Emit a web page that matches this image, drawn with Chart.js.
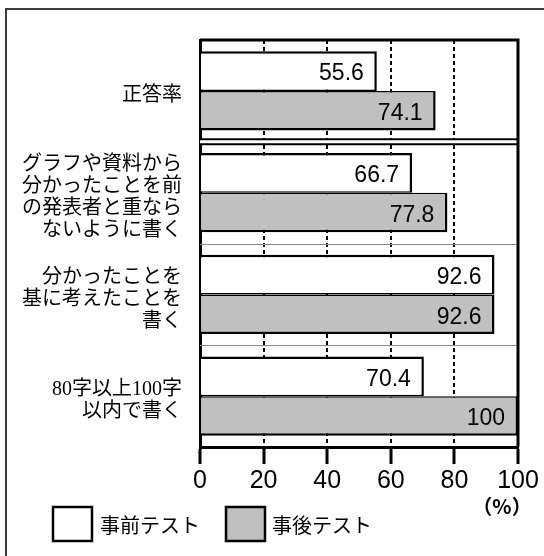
<!DOCTYPE html>
<html>
<head>
<meta charset="utf-8">
<script src="https://cdn.jsdelivr.net/npm/chart.js@4/dist/chart.umd.min.js"></script>
<style>
  html, body { margin: 0; padding: 0; background: #fff; }
  #wrap { position: relative; width: 544px; height: 556px; overflow: hidden; }
  #frame { position: absolute; left: 5px; top: 8px; width: 600px; height: 600px;
           border-left: 2px solid #3a3a3a; border-top: 2px solid #3a3a3a; }
  #c { position: absolute; left: 0; top: 0; }
</style>
</head>
<body>
<div id="wrap">
  <div id="frame"></div>
  <canvas id="c" width="544" height="556"></canvas>
</div>
<script>
// Evaluation items (multi-line labels)
const categories = [
  ['正答率'],
  ['グラフや資料から', '分かったことを前', 'の発表者と重なら', 'ないように書く'],
  ['分かったことを', '基に考えたことを', '書く'],
  ['80字以上100字', '以内で書く']
];
const seriesNames = ['事前テスト', '事後テスト'];
const preTest = [55.6, 66.7, 92.6, 70.4];
const postTest = [74.1, 77.8, 92.6, 100];
const xTicks = [0, 20, 40, 60, 80, 100];
const unitLabel = '（%）';

const JP = '"Noto Sans CJK JP", "Noto Sans", sans-serif';
const LATIN = '"Liberation Sans", Arial, sans-serif';

// Plot frame, category separators and bar value labels
const decorations = {
  id: 'decorations',
  afterDatasetsDraw(chart) {
    const { ctx, chartArea: a, scales: { y } } = chart;
    ctx.save();
    // separators between categories
    for (let i = 0; i < categories.length - 1; i++) {
      const yb = (y.getPixelForValue(i) + y.getPixelForValue(i + 1)) / 2;
      if (i === 0) {
        ctx.fillStyle = '#fff';
        ctx.fillRect(a.left, yb - 2.5, a.right - a.left, 5);
        ctx.strokeStyle = '#000';
        ctx.lineWidth = 2;
        ctx.beginPath();
        ctx.moveTo(a.left, yb - 2.5); ctx.lineTo(a.right, yb - 2.5);
        ctx.moveTo(a.left, yb + 2.5); ctx.lineTo(a.right, yb + 2.5);
        ctx.stroke();
      } else {
        ctx.strokeStyle = '#8a8a8a';
        ctx.lineWidth = 1;
        ctx.beginPath();
        ctx.moveTo(a.left, Math.round(yb) + 0.5); ctx.lineTo(a.right, Math.round(yb) + 0.5);
        ctx.stroke();
      }
    }
    // top and right edges of the plot
    ctx.strokeStyle = '#000';
    ctx.lineWidth = 3;
    ctx.beginPath();
    ctx.moveTo(a.left, a.top); ctx.lineTo(a.right, a.top); ctx.lineTo(a.right, a.bottom);
    ctx.stroke();

    // value labels inside the bar ends
    ctx.fillStyle = '#000';
    ctx.font = '23px ' + LATIN;
    ctx.textAlign = 'right';
    ctx.textBaseline = 'middle';
    chart.data.datasets.forEach((ds, di) => {
      chart.getDatasetMeta(di).data.forEach((bar, i) => {
        ctx.fillText(String(ds.data[i]), bar.x - 13, bar.y + 3);
      });
    });
    ctx.restore();
  },
  afterDraw(chart) {
    const { ctx } = chart;
    ctx.save();
    // unit
    ctx.fillStyle = '#000';
    ctx.font = 'bold 20px ' + JP;
    ctx.textAlign = 'center';
    ctx.textBaseline = 'middle';
    ctx.fillText(unitLabel, 502, 506);
    // legend
    const items = [{ x: 53, tx: 100 }, { x: 226, tx: 272 }];
    ctx.font = '20px ' + JP;
    ctx.textAlign = 'left';
    chart.data.datasets.forEach((ds, i) => {
      const it = items[i];
      ctx.fillStyle = ds.backgroundColor;
      ctx.fillRect(it.x, 507, 39, 34);
      ctx.strokeStyle = '#000';
      ctx.lineWidth = 2.5;
      ctx.strokeRect(it.x, 507, 39, 34);
      ctx.fillStyle = '#000';
      ctx.fillText(ds.label, it.tx, 525);
    });
    ctx.restore();
  }
};

new Chart(document.getElementById('c'), {
  type: 'bar',
  data: {
    labels: categories,
    datasets: [
      {
        label: seriesNames[0],
        data: preTest,
        backgroundColor: '#ffffff',
        borderColor: '#000000',
        borderWidth: { top: 2.5, right: 2.5, bottom: 1.5, left: 0 },
        borderSkipped: false
      },
      {
        label: seriesNames[1],
        data: postTest,
        backgroundColor: '#c0c0c0',
        borderColor: '#000000',
        borderWidth: { top: 1.5, right: 2.5, bottom: 2.5, left: 0 },
        borderSkipped: false
      }
    ]
  },
  options: {
    indexAxis: 'y',
    responsive: false,
    animation: false,
    events: [],
    layout: { padding: { top: 25, right: 26, left: 0, bottom: 0 } },
    datasets: { bar: { categoryPercentage: 0.78, barPercentage: 1 } },
    plugins: {
      legend: { display: false },
      tooltip: { enabled: false }
    },
    scales: {
      x: {
        min: 0,
        max: 100,
        afterBuildTicks(scale) { scale.ticks = xTicks.map(v => ({ value: v })); },
        afterFit(scale) { scale.height = 109; },
        grid: {
          color: c => (c.tick && (c.tick.value === 0 || c.tick.value === 100)) ? 'rgba(0,0,0,0)' : '#000',
          lineWidth: 2,
          tickLength: 17,
          tickWidth: 3,
          tickColor: '#000',
          tickBorderDash: []
        },
        border: { display: true, color: '#000', width: 3, dash: [4, 3] },
        ticks: {
          color: '#000',
          padding: 2,
          maxRotation: 0,
          font: { family: LATIN, size: 25 }
        }
      },
      y: {
        afterFit(scale) { scale.width = 200; },
        grid: { display: false, drawTicks: false },
        border: { display: true, color: '#000', width: 3 },
        ticks: {
          color: '#000',
          padding: 18,
          labelOffset: 5,
          font: { family: '"Liberation Serif", ' + JP, size: 20, lineHeight: 1.1 }
        }
      }
    }
  },
  plugins: [decorations]
});
</script>
</body>
</html>
